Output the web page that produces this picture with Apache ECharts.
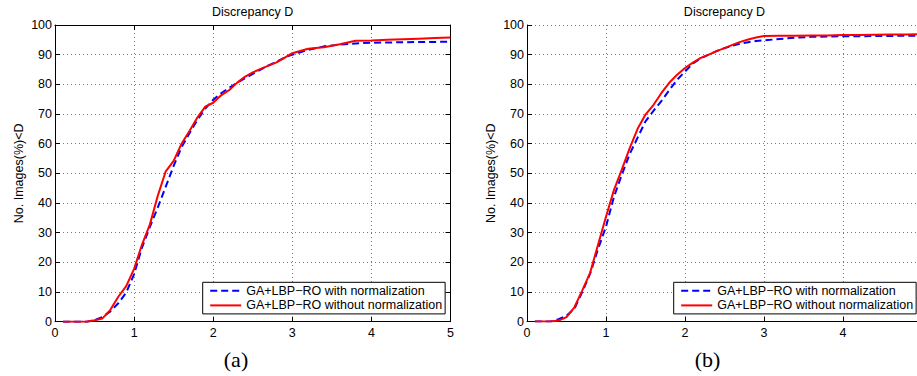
<!DOCTYPE html>
<html>
<head>
<meta charset="utf-8">
<script src="https://cdn.jsdelivr.net/npm/echarts@6/dist/echarts.min.js"></script>
<style>
  html, body { margin: 0; padding: 0; background: #fff; overflow: hidden; }
  #chart { width: 917px; height: 376px; }
</style>
</head>
<body>
<div id="chart"></div>
<script>
// Discrepancy D values (shared x nodes)
var dValues = [0.1,0.2,0.3,0.4,0.5,0.6,0.7,0.8,0.9,1.0,1.1,1.2,1.3,1.4,1.5,1.6,1.7,1.8,1.9,2.0,
               2.1,2.2,2.3,2.4,2.5,2.6,2.7,2.8,2.9,3.0,3.2,3.4,3.6,3.8,4.0,4.2,4.4,4.6,4.8,5.0];

// (a) left panel
var aWithNorm    = [0,0,0,0,0.5,1.6,3.5,6.2,9.8,16.0,25.0,32.0,38.5,45.5,52.5,58.8,63.5,68.0,71.8,74.8,
                    77.0,78.8,80.5,82.0,83.5,85.0,86.4,87.6,89.0,90.0,91.6,92.8,93.4,93.8,94.0,94.1,94.2,94.3,94.3,94.4];
var aWithoutNorm = [0,0,0,0,0.5,1.1,4.0,8.4,12.0,17.8,26.0,32.8,42.5,50.7,54.2,60.0,64.3,68.8,72.5,73.8,
                    76.3,78.0,80.5,82.5,84.0,85.2,86.3,87.4,88.9,90.5,92.0,92.5,93.5,94.7,94.8,95.0,95.2,95.4,95.6,95.8];

// (b) right panel
var bWithNorm    = [0,0,0,0.8,2.0,4.3,10.0,16.2,24.5,32.0,42.0,49.5,56.5,62.0,67.5,71.0,74.3,78.0,81.5,84.3,
                    87.0,88.8,90.0,91.2,92.2,93.0,93.7,94.2,94.6,94.8,95.3,95.7,96.0,96.1,96.2,96.2,96.3,96.3,96.4,96.4];
var bWithoutNorm = [0,0,0,0.3,1.5,4.8,10.5,16.5,26.0,35.3,44.3,51.2,58.5,65.0,69.8,73.0,77.0,80.5,83.2,85.5,
                    87.3,88.9,90.0,91.2,92.2,93.3,94.3,95.1,95.8,96.3,96.4,96.4,96.5,96.5,96.6,96.6,96.7,96.8,96.8,96.9];

var xTicks = [0,1,2,3,4,5];
var yTicks = [0,10,20,30,40,50,60,70,80,90,100];
var seriesNames = ['GA+LBP\u2212RO with normalization', 'GA+LBP\u2212RO without normalization'];
var panelTitles = ['Discrepancy D', 'Discrepancy D'];
var panelLabels = ['(a)', '(b)'];
var yAxisTitle = 'No. Images(%)<D';

function pairs(ys) { return dValues.map(function (x, i) { return [x, ys[i]]; }); }

var FONT = "'Liberation Sans', Arial, Helvetica, sans-serif";
var FS = 12.5;

var chart = echarts.init(document.getElementById('chart'), null, { renderer: 'svg' });

function xAxisCfg(grid, showLabel, position, showSplit, showMax) {
  return {
    type: 'value', gridIndex: grid, position: position,
    min: xTicks[0], max: xTicks[xTicks.length - 1], interval: 1,
    axisLine: { show: true, onZero: false, lineStyle: { color: '#000', width: 1 } },
    axisTick: { show: true, inside: true, length: 5, lineStyle: { color: '#000' } },
    axisLabel: { show: showLabel, showMaxLabel: showMax, color: '#000', fontFamily: FONT, fontSize: FS, margin: 5 },
    splitLine: { show: showSplit, lineStyle: { color: '#7a7a7a', type: [1, 3], width: 1 } }
  };
}
function yAxisCfg(grid, showLabel, position, showSplit, name) {
  return {
    type: 'value', gridIndex: grid, position: position,
    min: yTicks[0], max: yTicks[yTicks.length - 1], interval: 10,
    name: name || '', nameLocation: 'middle', nameGap: 30,
    nameTextStyle: { color: '#000', fontFamily: FONT, fontSize: FS },
    axisLine: { show: true, onZero: false, lineStyle: { color: '#000', width: 1 } },
    axisTick: { show: true, inside: true, length: 5, lineStyle: { color: '#000' } },
    axisLabel: { show: showLabel, color: '#000', fontFamily: FONT, fontSize: FS, margin: 3 },
    splitLine: { show: showSplit, lineStyle: { color: '#7a7a7a', type: [1, 3], width: 1 } }
  };
}

function legendCfg(left) {
  return {
    left: left, top: 282.3, orient: 'vertical',
    itemWidth: 31, itemHeight: 14, itemGap: 1.6,
    padding: [2, 3, 2, 6.5],
    backgroundColor: '#fff', borderColor: '#000', borderWidth: 1, borderRadius: 0,
    textStyle: { color: '#000', fontFamily: FONT, fontSize: FS },
    itemStyle: { opacity: 0 },
    lineStyle: { inherit: true },
    selectedMode: false,
    data: seriesNames
  };
}

function lineSeries(name, ys, xi, yi, color, dashed) {
  return {
    type: 'line', name: name, xAxisIndex: xi, yAxisIndex: yi,
    data: pairs(ys), symbol: 'none', showSymbol: false, smooth: false,
    lineStyle: { color: color, width: 2, type: dashed ? [7, 4] : 'solid' },
    itemStyle: { color: color },
    animation: false
  };
}

var option = {
  animation: false,
  backgroundColor: '#fff',
  grid: [
    { left: 55, top: 25, width: 395.5, height: 296.7, show: false, outerBoundsMode: 'none', containLabel: false },
    { left: 527, top: 25, width: 395, height: 296.5, show: false, outerBoundsMode: 'none', containLabel: false }
  ],
  xAxis: [
    xAxisCfg(0, true, 'bottom', true, true),
    xAxisCfg(0, false, 'top', false, true),
    xAxisCfg(1, true, 'bottom', true, false)
  ],
  yAxis: [
    yAxisCfg(0, true, 'left', true, yAxisTitle),
    yAxisCfg(0, false, 'right', false),
    yAxisCfg(1, true, 'left', true, yAxisTitle)
  ],
  legend: [legendCfg(202.7), legendCfg(673.7)],
  series: [
    lineSeries(seriesNames[0], aWithNorm, 0, 0, '#0000ff', true),
    lineSeries(seriesNames[1], aWithoutNorm, 0, 0, '#ff0000', false),
    lineSeries(seriesNames[0], bWithNorm, 2, 2, '#0000ff', true),
    lineSeries(seriesNames[1], bWithoutNorm, 2, 2, '#ff0000', false)
  ],
  graphic: [
    { type: 'text', x: 252.7, y: 11.7, style: { text: panelTitles[0], fill: '#000', font: FS + 'px ' + FONT, textAlign: 'center', textVerticalAlign: 'middle' } },
    { type: 'text', x: 724.5, y: 11.7, style: { text: panelTitles[1], fill: '#000', font: FS + 'px ' + FONT, textAlign: 'center', textVerticalAlign: 'middle' } },
    { type: 'text', x: 236, y: 359, style: { text: panelLabels[0], fill: '#000', font: "22px 'Liberation Serif', 'Times New Roman', serif", textAlign: 'center', textVerticalAlign: 'middle' } },
    { type: 'text', x: 707.5, y: 359, style: { text: panelLabels[1], fill: '#000', font: "22px 'Liberation Serif', 'Times New Roman', serif", textAlign: 'center', textVerticalAlign: 'middle' } }
  ]
};
chart.setOption(option);
</script>
</body>
</html>
